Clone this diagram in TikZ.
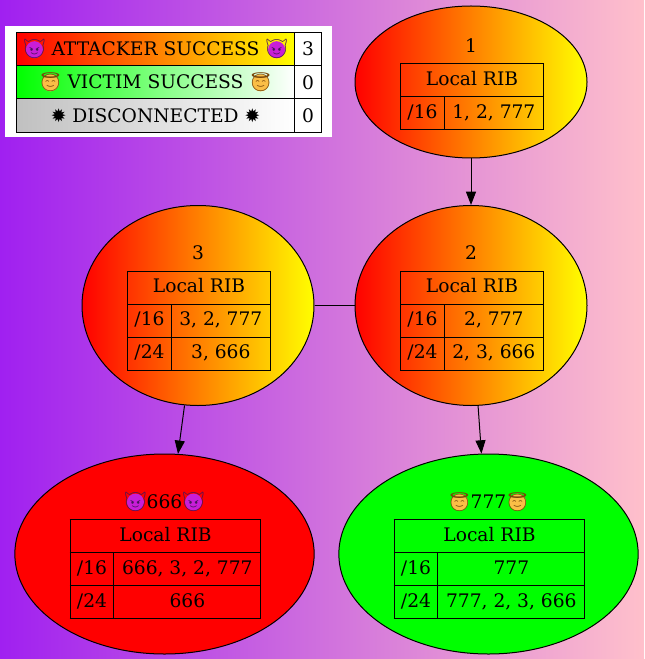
\documentclass[tikz,border=0pt]{standalone}
\usepackage{fontspec}
\usepackage{array}
\usetikzlibrary{arrows.meta,positioning,shapes.geometric}
\setmainfont{DejaVu Serif}
\newfontfamily\emojifont{Noto Emoji}
\newfontfamily\symfont{DejaVu Sans}
\definecolor{bgleft}{RGB}{160,32,240}
\definecolor{bgright}{RGB}{255,192,203}
\definecolor{devil}{RGB}{200,30,215}
\definecolor{devilink}{RGB}{70,20,90}
\definecolor{halo}{RGB}{250,190,70}
\definecolor{haloink}{RGB}{120,70,10}
\definecolor{nodegreen}{RGB}{0,255,0}
\definecolor{cellgrey}{RGB}{192,192,192}
% emoji outline with a coloured disc behind it
\newcommand{\facemark}[3]{\makebox[1.2em]{%
    \makebox[0pt]{\tikz[baseline={(0,-4.4pt)}] \fill[#1] (0,0) circle (6.4pt);}%
    \makebox[0pt]{\color{#2}\emojifont\symbol{#3}}}}
\newcommand{\devilface}{\facemark{devil}{devilink}{"1F608}}
\newcommand{\haloface}{\facemark{halo}{haloink}{"1F607}}
\newcommand{\burst}{{\symfont\symbol{"2739}}}
\setlength{\arrayrulewidth}{0.75pt}
\setlength{\tabcolsep}{0pt}
% one table per node: first column, second column, rows
\newcommand{\ribstrut}{\rule[-8.2pt]{0pt}{24pt}}
\newcommand{\aslabel}[1]{\rule[-8.25pt]{0pt}{22.5pt}\smash{#1}}
\newcommand{\ribtable}[3]{%
  \hspace*{1.5pt}\begin{tabular}{|>{\ribstrut}w{c}{#1}|w{c}{#2}|}
    \hline
    \multicolumn{2}{|c|}{\ribstrut Local RIB}\\\hline
    #3
  \end{tabular}}
\tikzset{
  asnode/.style={ellipse,draw=black,line width=0.75pt,inner sep=0pt,align=center,
    minimum width=174pt,minimum height=150pt,font=\fontsize{14}{17}\selectfont},
  midnode/.style={asnode,left color=red,right color=yellow},
  leafnode/.style={asnode,minimum width=224.5pt},
  legendcell/.style={draw=black,line width=0.75pt,inner sep=0pt,minimum height=25pt,
    font=\fontsize{14}{17}\selectfont},
  legendname/.style={legendcell,minimum width=209pt},
  legendcount/.style={legendcell,fill=white,minimum width=20pt},
  edgeline/.style={line width=0.75pt,black},
  edgearrow/.style={edgeline,-{Triangle[length=10pt,width=7.5pt]}}
}
\begin{document}
\begin{tikzpicture}[x=0.75pt,y=-0.75pt]
    \useasboundingbox (0,0) rectangle (644,659);
    \fill[left color=bgleft,right color=bgright] (0,0) rectangle (644,659);

    % legend
    \fill[white] (5,26) rectangle (332,137);
    \node[legendname,left color=red,right color=yellow] (attacker) at (155.5,49)
      {\devilface{} ATTACKER SUCCESS \devilface};
    \node[legendcount,right=-0.75pt of attacker] (attackercount) {3};
    \node[legendname,left color=nodegreen,right color=white,below=-0.75pt of attacker] (victim)
      {\haloface{} VICTIM SUCCESS \haloface};
    \node[legendcount,right=-0.75pt of victim] (victimcount) {0};
    \node[legendname,left color=cellgrey,right color=white,below=-0.75pt of victim] (disconnected)
      {\burst{} DISCONNECTED \burst};
    \node[legendcount,right=-0.75pt of disconnected] (disconnectedcount) {0};

    % ases
    \node[midnode,minimum height=114pt] (as1) at (471,82) {%
      \aslabel{1}\\[-1pt]
      \ribtable{32pt}{73.5pt}{/16 & 1, 2, 777\\\hline}};
    \node[midnode] (as2) at (471,305.5) {%
      \aslabel{2}\\[-1pt]
      \ribtable{32pt}{73.5pt}{/16 & 2, 777\\\hline /24 & 2, 3, 666\\\hline}};
    \node[midnode] (as3) at (198,305.5) {%
      \aslabel{3}\\[-1pt]
      \ribtable{32pt}{73.5pt}{/16 & 3, 2, 777\\\hline /24 & 3, 666\\\hline}};
    \node[leafnode,fill=red] (as666) at (164.5,554) {%
      \aslabel{\devilface{}666\devilface}\\[-1pt]
      \ribtable{32pt}{109.5pt}{/16 & 666, 3, 2, 777\\\hline /24 & 666\\\hline}};
    \node[leafnode,fill=nodegreen] (as777) at (488.5,554) {%
      \aslabel{\haloface{}777\haloface}\\[-1pt]
      \ribtable{32pt}{109.5pt}{/16 & 777\\\hline /24 & 777, 2, 3, 666\\\hline}};

    \draw[edgearrow] (as1) -- (as2);
    \draw[edgeline] (as3) -- (as2);
    \draw[edgearrow] (as3) -- (as666);
    \draw[edgearrow] (as2) -- (as777);
\end{tikzpicture}
\end{document}
